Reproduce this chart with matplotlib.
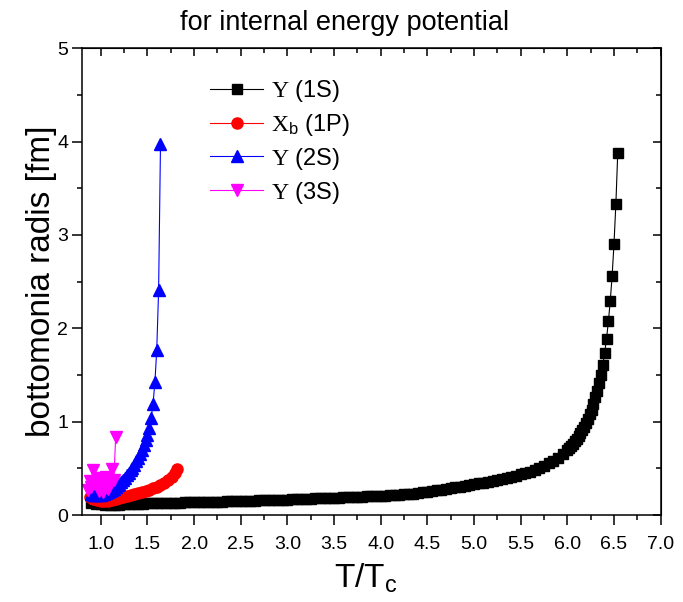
import matplotlib
matplotlib.use("Agg")
import matplotlib.pyplot as plt
from matplotlib.ticker import MultipleLocator

plt.rcParams['font.family'] = ['Liberation Sans', 'DejaVu Sans']
plt.rcParams['mathtext.fontset'] = 'custom'
plt.rcParams['mathtext.rm'] = 'Liberation Serif'
plt.rcParams['mathtext.sf'] = 'Liberation Sans'
plt.rcParams['mathtext.it'] = 'Liberation Sans:italic'

# Y(1S)
t_1s = [0.90, 0.95, 1.00, 1.05, 1.10, 1.15, 1.20, 1.25, 1.30, 1.35, 1.40, 1.45,
        1.50, 1.55, 1.60, 1.65, 1.70, 1.75, 1.80, 1.85, 1.90, 1.95, 2.00, 2.05,
        2.10, 2.15, 2.20, 2.25, 2.30, 2.35, 2.40, 2.45, 2.50, 2.55, 2.60, 2.65,
        2.70, 2.75, 2.80, 2.85, 2.90, 2.95, 3.00, 3.05, 3.10, 3.15, 3.20, 3.25,
        3.30, 3.35, 3.40, 3.45, 3.50, 3.55, 3.60, 3.65, 3.70, 3.75, 3.80, 3.85,
        3.90, 3.95, 4.00, 4.05, 4.10, 4.15, 4.20, 4.25, 4.30, 4.35, 4.40, 4.45,
        4.50, 4.55, 4.60, 4.65, 4.70, 4.75, 4.80, 4.85, 4.90, 4.95, 5.00, 5.05,
        5.10, 5.15, 5.20, 5.25, 5.30, 5.35, 5.40, 5.45, 5.50, 5.55, 5.60, 5.65,
        5.70, 5.75, 5.80, 5.85, 5.90, 5.95, 6.00, 6.02, 6.04, 6.06, 6.08, 6.10,
        6.12, 6.14, 6.16, 6.18, 6.20, 6.22, 6.24, 6.26, 6.28, 6.30, 6.32, 6.34,
        6.36, 6.38, 6.40, 6.42, 6.44, 6.46, 6.48, 6.50, 6.52, 6.54]
r_1s = [0.130, 0.120, 0.114, 0.111, 0.110, 0.111, 0.112, 0.114, 0.116, 0.118, 0.120, 0.122,
        0.124, 0.126, 0.127, 0.129, 0.130, 0.132, 0.133, 0.134, 0.135, 0.136, 0.137, 0.138,
        0.139, 0.140, 0.141, 0.143, 0.144, 0.145, 0.147, 0.148, 0.150, 0.151, 0.153, 0.154,
        0.156, 0.157, 0.159, 0.160, 0.162, 0.164, 0.166, 0.168, 0.170, 0.171, 0.173, 0.175,
        0.177, 0.179, 0.181, 0.183, 0.185, 0.187, 0.189, 0.191, 0.193, 0.195, 0.197, 0.199,
        0.201, 0.203, 0.206, 0.208, 0.211, 0.213, 0.216, 0.220, 0.225, 0.230, 0.236, 0.242,
        0.249, 0.256, 0.263, 0.271, 0.279, 0.288, 0.296, 0.304, 0.312, 0.321, 0.330, 0.339,
        0.348, 0.358, 0.368, 0.378, 0.389, 0.400, 0.411, 0.423, 0.436, 0.450, 0.466, 0.484,
        0.504, 0.527, 0.552, 0.580, 0.612, 0.650, 0.700, 0.720, 0.742, 0.765, 0.790, 0.815,
        0.845, 0.875, 0.910, 0.945, 0.985, 1.030, 1.080, 1.130, 1.190, 1.260, 1.330, 1.410,
        1.500, 1.608, 1.740, 1.890, 2.076, 2.297, 2.565, 2.908, 3.333, 3.877]

# chi_b(1P)
t_1p = [0.88, 0.92, 0.96, 1.00, 1.04, 1.08, 1.12, 1.16, 1.20, 1.24, 1.28, 1.32,
        1.36, 1.40, 1.44, 1.48, 1.52, 1.56, 1.60, 1.64, 1.68, 1.72, 1.76, 1.80, 1.82]
r_1p = [0.190, 0.170, 0.160, 0.155, 0.153, 0.155, 0.160, 0.168, 0.177, 0.188, 0.200, 0.212,
        0.223, 0.235, 0.247, 0.260, 0.273, 0.288, 0.305, 0.324, 0.347, 0.375, 0.410, 0.455, 0.490]

# Y(2S)
t_2s = [0.90, 0.92, 0.94, 0.96, 0.98, 1.00, 1.02, 1.04, 1.06, 1.08, 1.10, 1.12,
        1.14, 1.16, 1.18, 1.20, 1.22, 1.24, 1.26, 1.28, 1.30, 1.32, 1.34, 1.36,
        1.38, 1.40, 1.42, 1.44, 1.46, 1.48, 1.50, 1.52, 1.54, 1.56, 1.58, 1.60, 1.62, 1.64]
r_2s = [0.220, 0.215, 0.210, 0.210, 0.210, 0.215, 0.220, 0.228, 0.237, 0.247, 0.258, 0.270,
        0.284, 0.300, 0.317, 0.335, 0.355, 0.377, 0.400, 0.425, 0.450, 0.478, 0.508, 0.540,
        0.575, 0.610, 0.650, 0.695, 0.745, 0.800, 0.860, 0.935, 1.040, 1.190, 1.420, 1.770, 2.410, 3.970]

# Y(3S)
t_3s = [0.86, 0.88, 0.90, 0.92, 0.94, 0.96, 0.98, 1.00, 1.02, 1.04, 1.06, 1.08,
        1.10, 1.12, 1.14, 1.16]
r_3s = [0.270, 0.360, 0.300, 0.480, 0.330, 0.400, 0.260, 0.350, 0.250, 0.300, 0.410, 0.280,
        0.360, 0.490, 0.380, 0.840]

fig = plt.figure(figsize=(6.83, 6.02), dpi=100)
ax = fig.add_axes([0.1202, 0.1445, 0.8471, 0.7753])

ax.plot(t_1s, r_1s, color='black', marker='s', ms=7.5, lw=0.8, label=r'$\Upsilon$ (1S)')
ax.plot(t_1p, r_1p, color='red', marker='o', ms=8, lw=0.8, label=r'$\mathrm{X}_\mathsf{b}$ (1P)')
ax.plot(t_2s, r_2s, color='blue', marker='^', ms=8.5, lw=0.8, label=r'$\Upsilon$ (2S)')
ax.plot(t_3s, r_3s, color='magenta', marker='v', ms=8.5, lw=0.8, label=r'$\Upsilon$ (3S)')

ax.set_xlim(0.8, 7.0)
ax.set_ylim(0, 5)
ax.xaxis.set_major_locator(MultipleLocator(0.5))
ax.xaxis.set_minor_locator(MultipleLocator(0.25))
ax.yaxis.set_major_locator(MultipleLocator(1))
ax.yaxis.set_minor_locator(MultipleLocator(0.5))
ax.xaxis.set_major_formatter(matplotlib.ticker.FormatStrFormatter('%.1f'))
ax.tick_params(which='both', direction='out', width=1.1, labelsize=14)
ax.tick_params(which='major', length=7)
ax.tick_params(which='minor', length=3.6)
ax.tick_params(axis='x', which='major', pad=8)
ax.tick_params(axis='y', which='major', pad=3)
for s in ax.spines.values():
    s.set_linewidth(1.1)

# top / right axes with inward ticks
top = ax.secondary_xaxis('top')
top.xaxis.set_major_locator(MultipleLocator(0.5))
top.xaxis.set_minor_locator(MultipleLocator(0.25))
top.tick_params(which='both', direction='in', width=1.1, labeltop=False)
top.tick_params(which='major', length=6)
top.tick_params(which='minor', length=3.5)
right = ax.secondary_yaxis('right')
right.yaxis.set_major_locator(MultipleLocator(1))
right.yaxis.set_minor_locator(MultipleLocator(0.5))
right.tick_params(which='both', direction='in', width=1.1, labelright=False)
right.tick_params(which='major', length=6)
right.tick_params(which='minor', length=3.5)

fig.text(0.505, 0.962, 'for internal energy potential', fontsize=19.5, ha='center', va='center')
ax.set_xlabel(r'T/T$_\mathsf{c}$', fontsize=24)
ax.xaxis.set_label_coords(0.49, -0.1)
ax.set_ylabel('bottomonia radis [fm]', fontsize=24, labelpad=0)

ax.legend(loc='upper left', bbox_to_anchor=(0.221, 0.936), frameon=False, fontsize=17,
          handlelength=2.25, handletextpad=0.35, labelspacing=0.33, numpoints=1,
          borderpad=0, borderaxespad=0)

fig.savefig('out.png', dpi=100)
